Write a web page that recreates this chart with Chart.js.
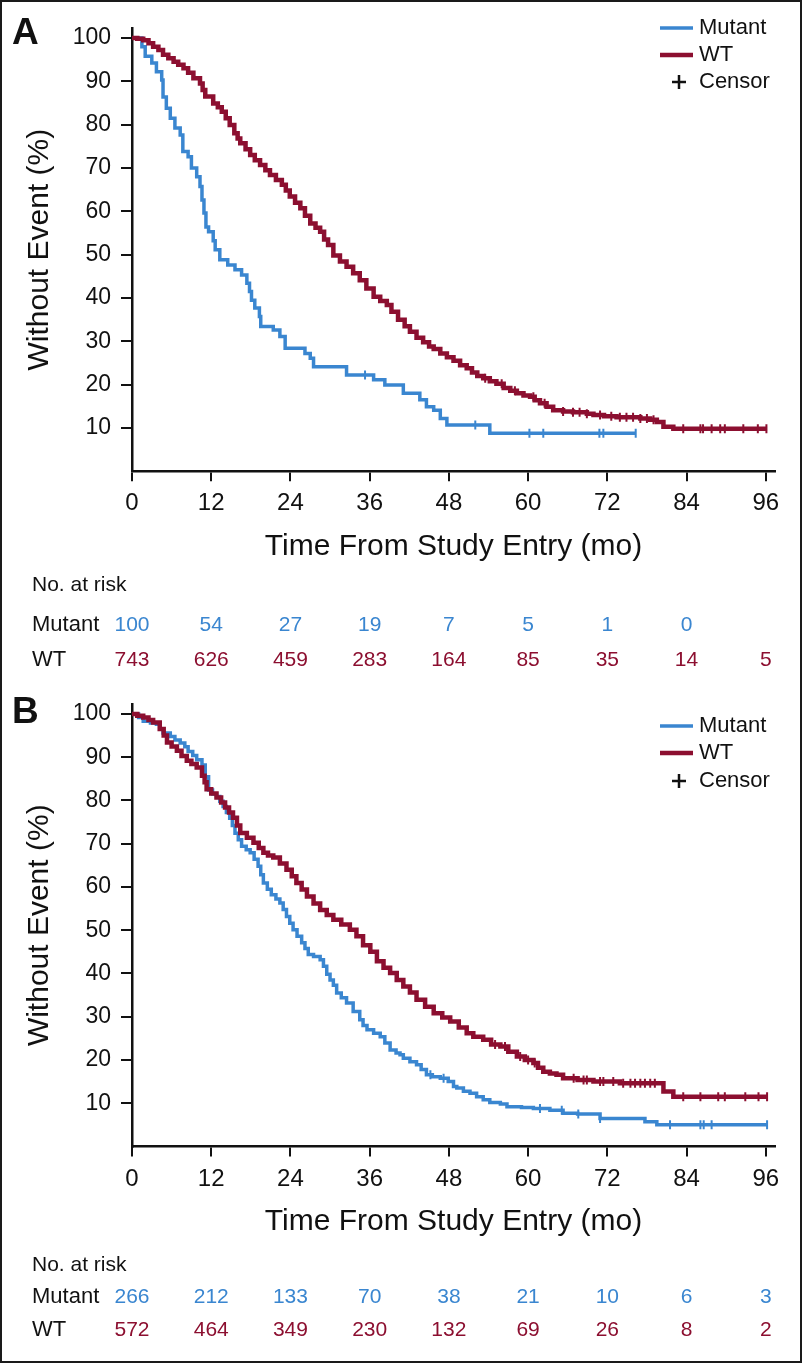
<!DOCTYPE html>
<html>
<head>
<meta charset="utf-8">
<script src="https://cdn.jsdelivr.net/npm/chart.js@4.4.1/dist/chart.umd.min.js"></script>
<style>
  body { margin: 0; background: #fff; }
  #wrap { position: relative; width: 805px; height: 1365px; }
  canvas { position: absolute; left: 0; }
  #chartA { top: 0; }
  #chartB { top: 676px; }
  #frame { position: absolute; left: 0; top: 0; width: 802px; height: 1363px;
           border: 2px solid #1a1a1a; box-sizing: border-box; pointer-events: none; }
</style>
</head>
<body>
<div id="wrap">
  <canvas id="chartA" width="805" height="676"></canvas>
  <canvas id="chartB" width="805" height="689"></canvas>
  <div id="frame"></div>
</div>
<script>
// axis ticks
const xTicks = [0, 12, 24, 36, 48, 60, 72, 84, 96];
const yTicks = [10, 20, 30, 40, 50, 60, 70, 80, 90, 100];

// ---- panel A ----
const aMutantTime = [0, 1.5, 2.0, 3.0, 3.7, 4.5, 4.7, 5.2, 5.8, 6.5, 7.3, 7.7, 8.5, 9.0, 9.8, 10.3, 10.6, 10.9, 11.2, 11.6, 12.3, 12.6, 13.3, 14.5, 15.6, 16.6, 17.4, 17.8, 18.1, 18.6, 19.3, 19.5, 21.4, 22.4, 23.2, 26.2, 27.0, 27.5, 32.5, 36.6, 38.3, 41.1, 43.6, 44.6, 45.7, 46.7, 47.7, 54.2, 76.3];
const aMutantSurv = [100, 98, 95.8, 94.2, 92.2, 90.3, 86.4, 83.8, 81.5, 79.2, 77.6, 73.8, 72.6, 70, 68, 65.7, 62.6, 59.6, 56.4, 55.3, 53.2, 51.1, 48.8, 47.6, 46.5, 45.3, 43.4, 41.5, 39.5, 37.7, 35.7, 33.4, 32.6, 31.1, 28.4, 27.2, 26.1, 24.1, 22.2, 21.1, 19.9, 18.0, 16.5, 14.9, 14.1, 12.2, 10.7, 8.8, 8.8];
const aMutantCensor = [35.3, 52.0, 60.2, 62.3, 70.8, 71.4, 76.3];

const aWtTime = [0, 0.8, 1.7, 2.5, 3.2, 4.0, 4.7, 5.5, 6.3, 7.0, 7.8, 8.5, 9.3, 10.3, 10.7, 11.1, 12.3, 13.0, 13.6, 14.2, 14.8, 15.5, 16.0, 16.4, 17.2, 17.9, 18.6, 19.4, 20.2, 20.9, 21.8, 22.7, 23.3, 23.9, 24.7, 25.5, 26.2, 27.0, 27.8, 28.5, 29.1, 29.7, 30.5, 31.5, 32.5, 33.5, 34.5, 35.5, 36.6, 37.6, 38.6, 39.3, 40.3, 41.3, 42.1, 43.1, 44.1, 45.0, 45.7, 46.7, 47.7, 48.7, 49.7, 50.7, 51.5, 52.3, 53.2, 54.2, 55.2, 56.3, 57.3, 58.3, 59.3, 60.3, 61.0, 61.8, 62.8, 63.8, 65.3, 66.8, 68.9, 69.9, 71.5, 73.4, 77.0, 78.5, 79.5, 80.5, 82.0, 96.2];
const aWtSurv = [100, 99.8, 99.5, 98.8, 98, 97.2, 96.1, 95.3, 94.5, 93.8, 93, 92, 90.7, 89.5, 88, 86.5, 84.9, 84, 83, 81.5, 79.9, 78, 76.8, 75.7, 74.3, 73, 71.8, 70.7, 69.5, 68.4, 67.2, 66.1, 64.8, 63.4, 62, 60.7, 59, 57.2, 56.2, 55.3, 53.5, 52.2, 49.8, 48.4, 47.2, 45.7, 44.1, 42.2, 40.3, 39.3, 38.4, 36.8, 35.0, 33.5, 32.2, 30.8, 29.8, 28.8, 28.2, 27.2, 26.3, 25.5, 24.5, 23.8, 22.8, 22.0, 21.5, 20.8, 20.2, 19.2, 18.6, 18, 17.5, 17.2, 16.4, 15.7, 14.9, 14.1, 13.8, 13.6, 13.3, 13.0, 12.7, 12.5, 12.2, 11.9, 11.4, 10.3, 9.8, 9.8];
const aWtCensor = [53.5, 56.0, 58.0, 60.8, 62.5, 65.3, 66.8, 67.8, 68.9, 70.9, 72.6, 73.9, 74.9, 75.9, 77.0, 78.0, 79.0, 83.5, 86.1, 86.5, 87.8, 89.1, 89.8, 92.6, 94.8, 96.1];

const aMutantRisk = [100, 54, 27, 19, 7, 5, 1, 0];
const aWtRisk = [743, 626, 459, 283, 164, 85, 35, 14, 5];

// ---- panel B ----
const bMutantTime = [0, 1.0, 1.7, 2.8, 3.7, 4.2, 4.7, 5.8, 6.5, 7.3, 8.0, 8.5, 9.2, 9.8, 10.6, 11.1, 11.6, 12.2, 12.8, 13.3, 13.8, 14.3, 14.8, 15.2, 15.6, 16.1, 16.6, 17.3, 17.9, 18.5, 19.1, 19.5, 19.9, 20.5, 21.1, 21.8, 22.4, 22.9, 23.4, 23.9, 24.4, 25.0, 25.7, 26.2, 26.7, 27.5, 28.5, 29.0, 29.5, 30.0, 30.5, 31.0, 31.7, 32.5, 33.5, 34.5, 35.0, 35.6, 36.6, 37.6, 38.3, 39.1, 40.0, 40.6, 41.1, 42.1, 43.1, 43.8, 44.6, 45.5, 46.7, 47.9, 48.7, 49.2, 50.2, 51.2, 52.2, 53.2, 54.2, 55.8, 56.8, 59.0, 60.8, 63.3, 65.3, 67.5, 70.9, 77.7, 79.5, 96.2];
const bMutantSurv = [100, 99.2, 98.3, 97.9, 97.6, 96.5, 95.6, 94.8, 94, 93.3, 92.4, 91.3, 90.4, 89.4, 88.2, 85.5, 82.4, 81.5, 80.9, 79.8, 78.6, 77.2, 75.9, 74.2, 72.4, 70.9, 69.4, 68.6, 67.9, 66.4, 64.8, 62.8, 60.9, 59.5, 58.2, 57.2, 56.3, 54.8, 53.2, 51.6, 50.1, 48.6, 47.1, 45.8, 44.4, 43.9, 43.2, 41.7, 39.8, 38.5, 37.3, 35.5, 34.4, 33.2, 31.2, 29.3, 28.0, 27.0, 26.2, 25.4, 23.9, 22.3, 21.6, 21.2, 20.4, 19.6, 18.9, 17.8, 16.6, 16.1, 15.8, 15.0, 13.9, 13.5, 12.8, 12.3, 11.5, 10.8, 10.2, 9.8, 9.2, 9.0, 8.8, 8.4, 7.7, 7.5, 6.5, 5.7, 5.0, 5.0];
const bMutantCensor = [45.2, 47.2, 61.8, 65.1, 67.6, 70.9, 81.5, 86.1, 86.6, 87.8, 96.2];

const bWtTime = [0, 0.8, 1.7, 2.5, 3.2, 4.2, 4.8, 5.3, 6.0, 6.8, 7.5, 8.3, 9.0, 9.8, 10.6, 11.0, 11.3, 12.0, 12.8, 13.5, 14.1, 14.7, 15.3, 15.9, 16.4, 17.4, 18.4, 19.2, 19.9, 20.6, 21.4, 22.4, 23.4, 24.2, 24.9, 25.7, 26.5, 27.5, 28.5, 29.5, 30.5, 31.7, 33.0, 34.0, 35.0, 36.1, 37.1, 38.1, 39.1, 40.1, 41.1, 42.1, 43.1, 44.4, 45.7, 47.0, 48.2, 49.5, 50.7, 51.7, 53.2, 54.4, 55.8, 57.0, 58.3, 59.5, 60.8, 61.5, 62.3, 63.3, 64.3, 65.3, 67.5, 69.9, 73.9, 80.5, 82.0, 96.2];
const bWtSurv = [100, 99.6, 99.2, 98.6, 98, 96.5, 95, 93.4, 92.5, 91.5, 90.3, 89.2, 88.4, 87.6, 85.7, 84.2, 82.6, 81.6, 80.7, 79.5, 78.4, 77.2, 76, 74.2, 72.5, 71.4, 70.2, 69, 67.9, 67.3, 66.8, 65.4, 64, 62.5, 60.9, 59.4, 57.8, 56.2, 54.7, 53.5, 52.4, 51.3, 50.1, 48.6, 46.5, 45, 42.8, 41.3, 40.1, 38.5, 37, 35.6, 33.9, 32.3, 30.8, 29.8, 28.9, 27.5, 26.2, 25.4, 24.7, 23.6, 23.1, 21.9, 20.8, 20.0, 19.3, 18.2, 17.3, 16.9, 16.6, 15.8, 15.4, 15.0, 14.6, 12.7, 11.5, 11.5];
const bWtCensor = [55.0, 56.5, 58.8, 60.0, 61.0, 66.9, 68.4, 68.9, 70.9, 71.4, 72.9, 74.4, 75.5, 76.2, 77.0, 77.7, 78.5, 79.2, 83.5, 86.1, 88.8, 89.8, 92.9, 94.9, 96.2];

const bMutantRisk = [266, 212, 133, 70, 38, 21, 10, 6, 3];
const bWtRisk = [572, 464, 349, 230, 132, 69, 26, 8, 2];

const BLUE = '#3a86d0';
const RED = '#8c0f30';
const FONT = '"Liberation Sans", Arial, Helvetica, sans-serif';

function toPoints(times, vals) {
    return times.map((t, i) => ({ x: t, y: vals[i] }));
}

// value of the step curve at time t
function survAt(times, vals, t) {
    let v = vals[0];
    for (let i = 0; i < times.length; i++) {
        if (times[i] <= t) v = vals[i];
    }
    return v;
}

const kmExtras = {
    id: 'kmExtras',
    afterDraw(chart, args, o) {
        const ctx = chart.ctx;
        const xs = chart.scales.x;
        ctx.save();
        ctx.textBaseline = 'middle';

        // panel letter
        ctx.fillStyle = '#111';
        ctx.textAlign = 'left';
        ctx.font = 'bold 37px ' + FONT;
        ctx.fillText(o.letter, 12, o.letterY);

        // legend
        ctx.font = '22px ' + FONT;
        ctx.lineCap = 'butt';
        ctx.strokeStyle = BLUE; ctx.lineWidth = 3.5;
        ctx.beginPath(); ctx.moveTo(660, o.legY[0]); ctx.lineTo(693, o.legY[0]); ctx.stroke();
        ctx.strokeStyle = RED; ctx.lineWidth = 4.5;
        ctx.beginPath(); ctx.moveTo(660, o.legY[1]); ctx.lineTo(693, o.legY[1]); ctx.stroke();
        ctx.strokeStyle = '#111'; ctx.lineWidth = 2.5;
        ctx.beginPath();
        ctx.moveTo(672, o.legY[2]); ctx.lineTo(686, o.legY[2]);
        ctx.moveTo(679, o.legY[2] - 7); ctx.lineTo(679, o.legY[2] + 7);
        ctx.stroke();
        ctx.fillStyle = '#111';
        ctx.fillText('Mutant', 699, o.legY[0]);
        ctx.fillText('WT', 699, o.legY[1]);
        ctx.fillText('Censor', 699, o.legY[2]);

        // number at risk table
        ctx.font = '21px ' + FONT;
        ctx.fillText('No. at risk', 32, o.riskY[0]);
        ctx.font = '22px ' + FONT;
        ctx.fillText('Mutant', 32, o.riskY[1]);
        ctx.fillText('WT', 32, o.riskY[2]);
        ctx.font = '21px ' + FONT;
        ctx.textAlign = 'center';
        ctx.fillStyle = BLUE;
        o.mutantRisk.forEach((n, i) => ctx.fillText(String(n), xs.getPixelForValue(xTicks[i]), o.riskY[1]));
        ctx.fillStyle = RED;
        o.wtRisk.forEach((n, i) => ctx.fillText(String(n), xs.getPixelForValue(xTicks[i]), o.riskY[2]));
        ctx.restore();
    }
};

function makePanel(id, p) {
    const censorSet = (times, vals, cens, color) => ({
        type: 'scatter',
        data: cens.map(t => ({ x: t, y: survAt(times, vals, t) })),
        showLine: false,
        pointStyle: 'line',
        rotation: 90,
        pointRadius: 4.5,
        pointBorderWidth: 2,
        pointBorderColor: color,
        pointBackgroundColor: color
    });
    return new Chart(document.getElementById(id), {
        type: 'scatter',
        data: {
            datasets: [
                { label: 'WT', data: toPoints(p.wtTime, p.wtSurv), showLine: true, stepped: true,
                  borderColor: RED, borderWidth: 4.5, pointRadius: 0, fill: false },
                { label: 'Mutant', data: toPoints(p.muTime, p.muSurv), showLine: true, stepped: true,
                  borderColor: BLUE, borderWidth: 3.5, pointRadius: 0, fill: false },
                censorSet(p.wtTime, p.wtSurv, p.wtCensor, RED),
                censorSet(p.muTime, p.muSurv, p.muCensor, BLUE)
            ]
        },
        options: {
            responsive: false,
            animation: false,
            devicePixelRatio: 1,
            layout: { padding: { left: 0, right: 30, top: 28, bottom: p.padBottom } },
            plugins: {
                legend: { display: false },
                tooltip: { enabled: false },
                kmExtras: p.extras
            },
            scales: {
                x: {
                    type: 'linear', min: 0, max: 97.4,
                    afterBuildTicks: s => { s.ticks = xTicks.map(v => ({ value: v })); },
                    afterFit: s => { s.height = 100; },
                    grid: { drawOnChartArea: false, drawTicks: true, tickLength: 10, color: '#111', lineWidth: 2 },
                    border: { display: true, color: '#111', width: 2.5 },
                    ticks: { color: '#111', padding: 8, maxRotation: 0, font: { family: FONT, size: 24 } },
                    title: { display: true, text: 'Time From Study Entry (mo)', color: '#111',
                             padding: { top: 0, bottom: 7 }, font: { family: FONT, size: 30 } }
                },
                y: {
                    type: 'linear', min: 0, max: 102.3,
                    afterBuildTicks: s => { s.ticks = yTicks.map(v => ({ value: v })); },
                    afterFit: s => { s.width = 132; },
                    grid: { drawOnChartArea: false, drawTicks: true, tickLength: 11, color: '#111', lineWidth: 2 },
                    border: { display: true, color: '#111', width: 2.5 },
                    ticks: { color: '#111', padding: 10, font: { family: FONT, size: 23 } },
                    title: { display: true, text: 'Without Event (%)', color: '#111',
                             padding: { top: 22, bottom: 0 }, font: { family: FONT, size: 30 } }
                }
            }
        },
        plugins: [kmExtras]
    });
}

makePanel('chartA', {
    muTime: aMutantTime, muSurv: aMutantSurv, muCensor: aMutantCensor,
    wtTime: aWtTime, wtSurv: aWtSurv, wtCensor: aWtCensor,
    padBottom: 104.7,
    extras: { letter: 'A', letterY: 34, legY: [28, 55, 82], riskY: [585, 625, 660],
              mutantRisk: aMutantRisk, wtRisk: aWtRisk }
});

makePanel('chartB', {
    muTime: bMutantTime, muSurv: bMutantSurv, muCensor: bMutantCensor,
    wtTime: bWtTime, wtSurv: bWtSurv, wtCensor: bWtCensor,
    padBottom: 118.5,
    extras: { letter: 'B', letterY: 37, legY: [50, 77, 105], riskY: [589, 621, 654],
              mutantRisk: bMutantRisk, wtRisk: bWtRisk }
});
</script>
</body>
</html>
